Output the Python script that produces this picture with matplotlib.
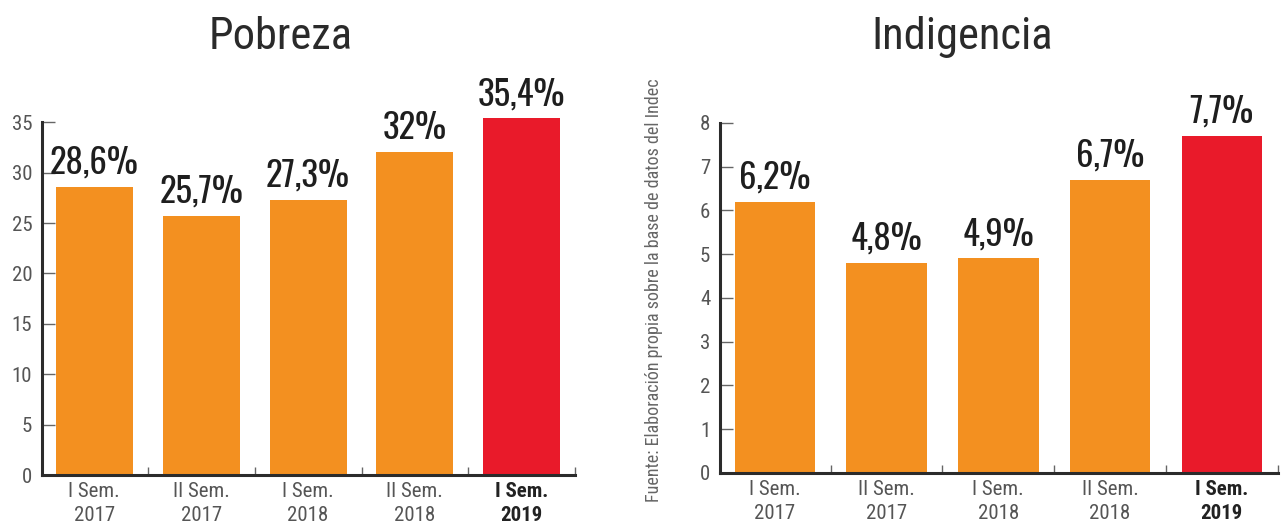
import matplotlib.pyplot as plt
from matplotlib import font_manager

periodos = ["I Sem.\n2017", "II Sem.\n2017", "I Sem.\n2018", "II Sem.\n2018", "I Sem.\n2019"]
pobreza = [28.6, 25.7, 27.3, 32.0, 35.4]
pobreza_etq = ["28,6%", "25,7%", "27,3%", "32%", "35,4%"]
indigencia = [6.2, 4.8, 4.9, 6.7, 7.7]
indigencia_etq = ["6,2%", "4,8%", "4,9%", "6,7%", "7,7%"]

NARANJA = "#F39020"
ROJO = "#E91A2A"
GRIS = "#555555"

nombres = {f.name for f in font_manager.fontManager.ttflist}


def primera(*opciones):
    for o in opciones:
        if o in nombres:
            return [o, "DejaVu Sans"]
    return ["DejaVu Sans"]


TEXTO = primera("Roboto Condensed", "Archivo Narrow", "IBM Plex Sans Condensed")
CIFRAS = primera("Oswald", "Roboto Condensed", "Archivo Narrow", "IBM Plex Sans Condensed")
plt.rcParams["font.family"] = TEXTO


def grafico(ax, valores, etiquetas, ymax, paso, titulo, xtit):
    colores = [NARANJA] * (len(valores) - 1) + [ROJO]
    x = list(range(len(valores)))
    ax.bar(x, valores, width=0.72, color=colores, clip_on=False, zorder=2)
    for xi, v, t in zip(x, valores, etiquetas):
        ax.annotate(t, (xi, v), xytext=(0, 5), textcoords="offset points",
                    ha="center", va="bottom", fontsize=25, fontweight=700,
                    family=CIFRAS, color="#1e1e1e", annotation_clip=False)
    ax.set_ylim(0, ymax)
    ax.set_xlim(-0.49, len(valores) - 0.55)
    ax.set_yticks(range(0, ymax + 1, paso))
    ax.set_xticks(x)
    ax.set_xticklabels(periodos)
    ax.set_xticks([i + 0.5 for i in x], minor=True)
    for s in ["top", "right"]:
        ax.spines[s].set_visible(False)
    for s in ["left", "bottom"]:
        ax.spines[s].set_linewidth(2.2)
        ax.spines[s].set_color("#2b2b2b")
        ax.spines[s].set_zorder(3)
    ax.tick_params(axis="y", direction="in", length=9, width=1, color="#666666",
                   labelsize=15, labelcolor=GRIS, pad=7)
    ax.tick_params(axis="x", which="major", length=0, labelsize=15,
                   labelcolor=GRIS, pad=5)
    ax.tick_params(axis="x", which="minor", direction="in", length=6, width=1,
                   color="#666666")
    for lab in ax.get_xticklabels():
        lab.set_linespacing(1.35)
    ult = ax.get_xticklabels()[-1]
    ult.set_fontweight("bold")
    ult.set_color("#222222")
    fig.text(xtit, 0.93, titulo, ha="center", va="center", fontsize=32,
             fontweight="normal", color="#2a2a2a")


fig = plt.figure(figsize=(12.88, 5.29), dpi=100)
ax1 = fig.add_axes([0.0326, 0.102, 0.414, 0.667])
ax2 = fig.add_axes([0.559, 0.106, 0.433, 0.662])

grafico(ax1, pobreza, pobreza_etq, 35, 5, "Pobreza", 0.218)
grafico(ax2, indigencia, indigencia_etq, 8, 1, "Indigencia", 0.747)

fig.text(0.508, 0.452, "Fuente: Elaboración propia sobre la base de datos del Indec",
         rotation=90, ha="center", va="center", fontsize=13, color="#666666")

fig.savefig("out.png", dpi=100, facecolor="white")
